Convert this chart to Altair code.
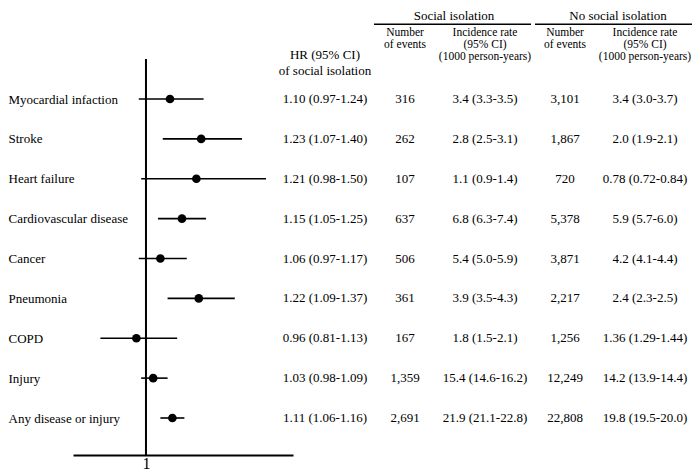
import altair as alt
import pandas as pd

# ---------------- data ----------------
outcomes = ["Myocardial infaction", "Stroke", "Heart failure", "Cardiovascular disease",
            "Cancer", "Pneumonia", "COPD", "Injury", "Any disease or injury"]
hr = [1.10, 1.23, 1.21, 1.15, 1.06, 1.22, 0.96, 1.03, 1.11]
hr_lo = [0.97, 1.07, 0.98, 1.05, 0.97, 1.09, 0.81, 0.98, 1.06]
hr_hi = [1.24, 1.40, 1.50, 1.25, 1.17, 1.37, 1.13, 1.09, 1.16]
si_events = ["316", "262", "107", "637", "506", "361", "167", "1,359", "2,691"]
si_rate = ["3.4 (3.3-3.5)", "2.8 (2.5-3.1)", "1.1 (0.9-1.4)", "6.8 (6.3-7.4)", "5.4 (5.0-5.9)",
           "3.9 (3.5-4.3)", "1.8 (1.5-2.1)", "15.4 (14.6-16.2)", "21.9 (21.1-22.8)"]
no_events = ["3,101", "1,867", "720", "5,378", "3,871", "2,217", "1,256", "12,249", "22,808"]
no_rate = ["3.4 (3.0-3.7)", "2.0 (1.9-2.1)", "0.78 (0.72-0.84)", "5.9 (5.7-6.0)", "4.2 (4.1-4.4)",
           "2.4 (2.3-2.5)", "1.36 (1.29-1.44)", "14.2 (13.9-14.4)", "19.8 (19.5-20.0)"]
ref_value = [1]
groups = ["Social isolation", "No social isolation"]
cols = ["hr", "si_n", "si_rate", "no_n", "no_rate"]
sub_cols = ["si_n", "si_rate", "no_n", "no_rate"]
sub_headers = ["Number\nof events", "Incidence rate\n(95% CI)\n(1000 person-years)",
               "Number\nof events", "Incidence rate\n(95% CI)\n(1000 person-years)"]
hr_header = ["HR (95% CI)\nof social isolation"]

FONT = "Liberation Serif"

# ---------------- tables ----------------
forest_df = pd.DataFrame({"outcome": outcomes, "hr": hr, "lo": hr_lo, "hi": hr_hi})
hr_txt = [f"{a:.2f} ({b:.2f}-{c:.2f})" for a, b, c in zip(hr, hr_lo, hr_hi)]
rows = []
for i, o in enumerate(outcomes):
    for c, v in zip(cols, [hr_txt[i], si_events[i], si_rate[i], no_events[i], no_rate[i]]):
        rows.append({"outcome": o, "col": c, "txt": v})
table_df = pd.DataFrame(rows)
sub_df = pd.DataFrame({"col": sub_cols, "txt": sub_headers})
hrh_df = pd.DataFrame({"col": ["hr"], "txt": hr_header})
grp_df = pd.DataFrame({"grp": groups})
ref_df = pd.DataFrame({"ref": ref_value})

# ---------------- forest plot ----------------
fx_scale = alt.Scale(domain=[0.696, 1.6125], range=[65, 285], nice=False, zero=False)
fx_axis = alt.Axis(title=None, values=[1], ticks=False, grid=False, domainColor="black",
                   domainWidth=2, labelFont=FONT, labelFontSize=16, labelColor="black",
                   labelPadding=0, format="d")
fy_scale = alt.Scale(type="point", domain=outcomes, range=[91, 410], padding=0)
fy_axis = alt.Axis(title=None, domain=False, ticks=False, grid=False, labelAlign="left",
                   labelPadding=0, labelFont=FONT, labelFontSize=13, labelColor="black",
                   labelLimit=0)


def fy():
    return alt.Y("outcome:N", sort=outcomes, scale=fy_scale, axis=fy_axis)


ci = alt.Chart(forest_df).mark_rule(color="black", strokeWidth=1.6).encode(
    x=alt.X("lo:Q", scale=fx_scale, axis=fx_axis), x2="hi:Q", y=fy())
pts = alt.Chart(forest_df).mark_point(filled=True, color="black", size=75, opacity=1,
                                      shape="circle").encode(
    x=alt.X("hr:Q", scale=fx_scale, axis=fx_axis), y=fy())
ref = alt.Chart(ref_df).mark_rule(color="black", strokeWidth=2).encode(
    x=alt.X("ref:Q", scale=fx_scale, axis=fx_axis), y=alt.value(51), y2=alt.value(447))
forest = alt.layer(ci, ref, pts)

# ---------------- table ----------------
tx_scale = alt.Scale(type="point", domain=cols, range=[317, 637], padding=0)
ty_scale = alt.Scale(type="point", domain=outcomes, range=[91, 410], padding=0)

vals = alt.Chart(table_df).mark_text(font=FONT, fontSize=13, color="black", align="center",
                                     baseline="middle").encode(
    x=alt.X("col:N", scale=tx_scale, axis=None),
    y=alt.Y("outcome:N", scale=ty_scale, axis=None),
    text="txt:N")
subs = alt.Chart(sub_df).mark_text(font=FONT, fontSize=11.5, lineHeight=12, lineBreak="\n",
                                   color="black", align="center", baseline="top").encode(
    x=alt.X("col:N", scale=tx_scale, axis=None), y=alt.value(19), text="txt:N")
hrh = alt.Chart(hrh_df).mark_text(font=FONT, fontSize=13, lineHeight=16, lineBreak="\n",
                                  color="black", align="center", baseline="top").encode(
    x=alt.X("col:N", scale=tx_scale, axis=None), y=alt.value(41), text="txt:N")
table = alt.layer(vals, subs, hrh)

# ---------------- group headers ----------------
grp_text = alt.Chart(grp_df).mark_text(font=FONT, fontSize=13, color="black", align="center",
                                       baseline="top").encode(
    x=alt.X("grp:N", scale=alt.Scale(type="point", domain=groups, range=[446, 610], padding=0),
            axis=None),
    y=alt.value(2), text="grp:N")
grp_rule = alt.Chart(grp_df).mark_rect(color="black").encode(
    x=alt.X("grp:N", scale=alt.Scale(type="band", domain=groups, range=[366, 684],
                                     paddingInner=0.0244, paddingOuter=0), axis=None),
    y=alt.value(15.5), y2=alt.value(16.9))

chart = alt.layer(forest, table, grp_text, grp_rule).resolve_scale(
    x="independent", y="independent"
).properties(
    width=684, height=447,
    padding={"left": 0, "top": 0, "right": 0, "bottom": 19},
    autosize=alt.AutoSizeParams(type="none"),
).configure_view(stroke=None)

chart.save("out.html", embed_options={"renderer": "svg", "actions": False})
